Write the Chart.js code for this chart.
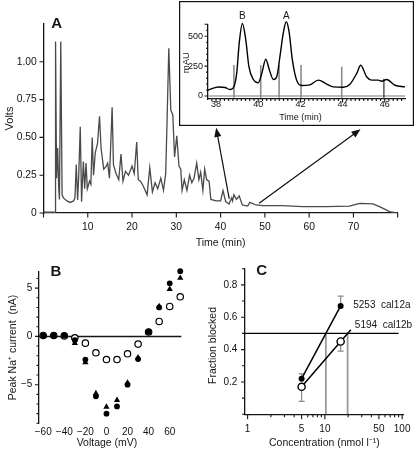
<!DOCTYPE html>
<html>
<head>
<meta charset="utf-8">
<script src="https://cdn.jsdelivr.net/npm/chart.js@4.4.0/dist/chart.umd.min.js"></script>
<style>
  html, body { margin: 0; padding: 0; background: #fff; width: 420px; height: 452px; overflow: hidden; }
  canvas { position: absolute; }
  #cA  { left: 0; top: 0; }
  #cIn { left: 179px; top: 1px; }
  #cB  { left: 0; top: 255px; }
  #cC  { left: 205px; top: 255px; }
</style>
</head>
<body>
<canvas id="cA" width="420" height="252"></canvas>
<canvas id="cIn" width="235" height="125"></canvas>
<canvas id="cB" width="200" height="197"></canvas>
<canvas id="cC" width="215" height="197"></canvas>
<script>
// ---------- panel A : chromatogram ----------
const timeA = [0, 2.6, 2.72, 2.95, 3.2, 3.44, 3.6, 3.9, 4.2, 4.5, 5.3, 6.0, 6.8, 7.1, 7.4, 7.7, 7.95, 8.3, 8.6, 9.0,
  9.3, 9.6, 9.9, 10.4, 10.7, 11.0, 11.3, 11.7, 12.2, 12.65, 13.0, 13.6, 14.2, 14.5, 14.9, 15.5, 15.8, 16.4, 17.0, 17.5,
  17.95, 18.5, 19.2, 20.0, 20.5, 21.05, 21.4, 21.9, 22.5, 23.4, 24.0, 24.6, 25.2, 25.8, 26.5, 27.1, 27.6, 27.9, 28.3, 28.75,
  29.2, 29.6, 30.1, 30.6, 31.0, 31.3, 31.8, 32.4, 33.0, 33.5, 34.0, 34.6, 35.1, 35.5, 36.0, 36.4, 36.85, 37.4, 37.8, 39.0,
  40.0, 40.55, 41.15, 41.9, 42.5, 42.7, 43.0, 43.6, 44.2, 44.9, 46.1, 46.6, 47.0, 47.96, 49.5, 54.0, 58.5, 63.8, 69.1, 71.4,
  74.4, 75.9, 78.2, 79.7];
const voltsA = [0.005, 0.005, 1.135, 0.23, 0.43, 0.16, 0.09, 1.135, 0.12, 0.10, 0.08, 0.07, 0.08, 0.10, 0.32, 0.086, 0.24, 0.57, 0.075, 0.34,
  0.16, 0.33, 0.16, 0.21, 0.19, 0.50, 0.25, 0.40, 0.46, 0.64, 0.43, 0.29, 0.31, 0.33, 0.23, 0.70, 0.32, 0.26, 0.22, 0.39,
  0.21, 0.275, 0.25, 0.31, 0.26, 0.47, 0.22, 0.21, 0.18, 0.12, 0.30, 0.14, 0.20, 0.16, 0.23, 0.15, 0.26, 0.60, 1.09, 0.68,
  0.65, 0.37, 0.51, 0.31, 0.29, 0.15, 0.22, 0.15, 0.25, 0.20, 0.23, 0.33, 0.22, 0.27, 0.15, 0.29, 0.22, 0.21, 0.09, 0.08,
  0.08, 0.148, 0.075, 0.06, 0.10, 0.08, 0.12, 0.09, 0.113, 0.053, 0.046, 0.07, 0.065, 0.053, 0.049, 0.049, 0.042, 0.042, 0.046, 0.064,
  0.06, 0.042, 0.009, 0.0];
const voltTicks = [0, 0.25, 0.5, 0.75, 1.0];
const timeTicks = [0, 10, 20, 30, 40, 50, 60, 70, 80];
const arrowFrom = [[41.95, 0.093], [48.7, 0.064]];
const arrowTo = [[39.0, 0.563], [71.6, 0.554]];

// ---------- inset : zoom of 38-47 min ----------
const timeIn = [37.62, 37.72, 38.11, 38.43, 38.66, 38.82, 38.98, 39.1, 39.25, 39.41, 39.56, 39.77, 40.0, 40.17, 40.36, 40.53,
  40.72, 40.88, 41.03, 41.19, 41.33, 41.46, 41.62, 41.82, 42.06, 42.45, 42.85, 43.25, 43.56, 44.03, 44.35, 44.67, 44.86,
  45.14, 45.38, 45.69, 45.85, 46.09, 46.48, 46.96];
const mauIn = [50, 56, 76, 71, 54, 68, 189, 443, 607, 472, 246, 138, 110, 189, 308, 218,
  138, 161, 330, 528, 621, 542, 302, 133, 88, 93, 133, 99, 76, 73, 99, 189, 257,
  161, 133, 133, 124, 138, 90, 76];
const inTimeTicks = [38, 40, 42, 44, 46];
const inMauTicks = [0, 250, 500];
const cutTimes = [38.85, 40.12, 40.99, 42.03, 43.96, 45.96];
const cutTops = [260, 260, 260, 260, 245, 145];
const peakNames = ['B', 'A'];
const peakTimes = [39.25, 41.33];

// ---------- panel B : I-V ----------
const voltage = [-60, -50, -40, -30, -20, -10, 0, 10, 20, 30, 40, 50, 60, 70];
const currentOpen = [0.1, 0.1, 0.05, -0.15, -0.7, -1.7, -2.4, -2.4, -1.8, -0.8, 0.45, 1.55, 3.1, 4.1];
const currentFilled = [0.1, 0.1, 0.1, -0.4, -2.4, -6.2, -8.0, -7.25, -5.0, -2.35, 0.5, 3.0, 5.5, 6.75];
const currentTri = [0.05, 0.05, 0.0, -0.7, -2.7, -5.9, -7.3, -6.6, -4.8, -2.2, 0.35, 3.1, 4.9, 6.05];
const voltageTicks = [-60, -40, -20, 0, 20, 40, 60];
const currentTicks = [-5, 0, 5];

// ---------- panel C : dose response ----------
const conc = [5, 16];
const blockedA = [0.22, 0.67];
const errA = [0.03, 0.06];
const blockedB = [0.17, 0.45];
const errB = [0.09, 0.06];
const leaderB = [21.7, 0.523];
const ic50 = [10.3, 19.7];
const cloneIds = ['5253', '5194'];
const cloneNames = ['cal12a', 'cal12b'];
const concTicks = [1, 5, 10, 50, 100];
const concMinor = [2, 3, 4, 6, 7, 8, 9, 20, 30, 40, 60, 70, 80, 90];
const fracTicks = [0.2, 0.4, 0.6, 0.8];
const fracMinor = [0, 0.1, 0.3, 0.5, 0.7, 0.9];

const FAM = "'Liberation Sans', Arial, Helvetica, sans-serif";
Chart.defaults.font.family = FAM;
Chart.defaults.color = '#111';
const INK = '#161616';

function txt(ctx, s, x, y, size, opt = {}) {
  ctx.save();
  ctx.translate(x, y);
  if (opt.rot) ctx.rotate(opt.rot);
  ctx.font = (opt.bold ? 'bold ' : '') + size + 'px ' + FAM;
  ctx.fillStyle = INK;
  ctx.textAlign = opt.align || 'center';
  ctx.textBaseline = 'middle';
  ctx.fillText(s, 0, 0);
  ctx.restore();
}

function arrow(ctx, x0, y0, x1, y1) {
  const a = Math.atan2(y1 - y0, x1 - x0), L = 9, W = 3.6;
  const c = Math.cos(a), s = Math.sin(a);
  ctx.beginPath();
  ctx.moveTo(x0, y0);
  ctx.lineTo(x1 - L * 0.7 * c, y1 - L * 0.7 * s);
  ctx.stroke();
  ctx.beginPath();
  ctx.moveTo(x1, y1);
  ctx.lineTo(x1 - L * c + W * s, y1 - L * s - W * c);
  ctx.lineTo(x1 - L * c - W * s, y1 - L * s + W * c);
  ctx.closePath();
  ctx.fill();
}

// outward tick marks, drawn by hand so that majors and minors can differ
function tickMarks(spec) {
  return {
    id: 'tickMarks',
    afterDraw(chart) {
      const ctx = chart.ctx, a = chart.chartArea;
      ctx.save();
      ctx.strokeStyle = INK;
      ctx.lineWidth = 1.1;
      ctx.beginPath();
      spec.forEach(s => {
        const sc = chart.scales[s.axis];
        s.values.forEach(v => {
          const p = sc.getPixelForValue(v);
          if (s.axis === 'x') { ctx.moveTo(p, a.bottom); ctx.lineTo(p, a.bottom + s.len); }
          else { ctx.moveTo(a.left, p); ctx.lineTo(a.left - s.len, p); }
        });
      });
      ctx.stroke();
      ctx.restore();
    }
  };
}

function fixedTicks(list) {
  return s => { s.ticks = list.map(v => ({ value: v })); };
}
const minus = v => (v < 0 ? '\u2212' + Math.abs(v) : String(v));
const xy = (xs, ys) => xs.map((x, i) => ({ x: x, y: ys[i] }));

// ---------- chart A ----------
new Chart(document.getElementById('cA'), {
  type: 'line',
  data: {
    datasets: [{
      data: xy(timeA, voltsA),
      borderColor: '#4a4a4a', borderWidth: 1.3, pointRadius: 0, tension: 0
    }]
  },
  options: {
    responsive: false, animation: false, devicePixelRatio: 1,
    layout: { padding: { left: 0, top: 24, right: 22.3, bottom: 0 } },
    plugins: { legend: { display: false }, tooltip: { enabled: false } },
    scales: {
      x: {
        type: 'linear', min: 0, max: 80,
        afterBuildTicks: fixedTicks(timeTicks),
        afterFit: s => { s.height = 39; },
        grid: { display: false, drawTicks: false },
        border: { display: true, color: INK, width: 1.3 },
        ticks: { autoSkip: false, maxRotation: 0, padding: 7.5, font: { size: 10.3 },
          callback: v => (v === 0 || v === 80 ? '' : String(v)) }
      },
      y: {
        type: 'linear', min: 0, max: 1.25,
        afterBuildTicks: fixedTicks(voltTicks),
        afterFit: s => { s.width = 43.5; },
        grid: { display: false, drawTicks: false },
        border: { display: true, color: INK, width: 1.3 },
        ticks: { autoSkip: false, padding: 6.8, font: { size: 10.3 },
          callback: v => (v === 0 ? '0' : v.toFixed(2)) }
      }
    }
  },
  plugins: [tickMarks([{ axis: 'x', values: timeTicks, len: 4.5 }, { axis: 'y', values: voltTicks, len: 4 }]), {
    id: 'decorA',
    afterDraw(chart) {
      const ctx = chart.ctx, a = chart.chartArea, x = chart.scales.x, y = chart.scales.y;
      txt(ctx, 'A', 56.7, 24.3, 15, { bold: true });
      txt(ctx, 'Volts', 10, (a.top + a.bottom) / 2, 11, { rot: -Math.PI / 2 });
      txt(ctx, 'Time (min)', (a.left + a.right) / 2, 243, 10.5);
      ctx.save();
      ctx.strokeStyle = '#111'; ctx.fillStyle = '#111'; ctx.lineWidth = 1.2;
      arrowFrom.forEach((f, i) => {
        const t = arrowTo[i];
        arrow(ctx, x.getPixelForValue(f[0]), y.getPixelForValue(f[1]), x.getPixelForValue(t[0]), y.getPixelForValue(t[1]));
      });
      ctx.restore();
    }
  }]
});

// ---------- inset ----------
const inMinorX = [];
for (let t = 37.8; t < 47.0; t += 0.2) inMinorX.push(Math.round(t * 10) / 10);
const inMinorY = [];
for (let m = 50; m <= 600; m += 50) if (m !== 250 && m !== 500) inMinorY.push(m);
const cutData = [], cutLast = [];
cutTimes.forEach((t, i) => {
  const seg = [{ x: t, y: -14 }, { x: t, y: cutTops[i] }, { x: t, y: null }];
  if (i < cutTimes.length - 1) cutData.push(...seg); else cutLast.push(...seg);
});

new Chart(document.getElementById('cIn'), {
  type: 'line',
  data: {
    datasets: [
      { data: xy(timeIn, mauIn), borderColor: '#000', borderWidth: 1.4, pointRadius: 0,
        cubicInterpolationMode: 'monotone', clip: false },
      { data: cutLast, borderColor: '#2a2a2a', borderWidth: 1.2, pointRadius: 0, spanGaps: false },
      { data: cutData, borderColor: '#8a8a8a', borderWidth: 1.6, pointRadius: 0, spanGaps: false },
      { data: [{ x: timeIn[0], y: 0 }, { x: timeIn[timeIn.length - 1], y: 0 }],
        borderColor: '#a5a5a5', borderWidth: 1.6, pointRadius: 0 }
    ]
  },
  options: {
    responsive: false, animation: false, devicePixelRatio: 1,
    layout: { padding: { left: 0, top: 23.3, right: 9, bottom: 0 } },
    plugins: { legend: { display: false }, tooltip: { enabled: false } },
    scales: {
      x: {
        type: 'linear', min: 37.62, max: 46.96,
        afterBuildTicks: fixedTicks(inTimeTicks),
        afterFit: s => { s.height = 27; },
        grid: { display: false, drawTicks: false },
        border: { display: true, color: INK, width: 1.3 },
        ticks: { autoSkip: false, maxRotation: 0, padding: 0, font: { size: 9 }, callback: v => String(v) }
      },
      y: {
        type: 'linear', min: -25, max: 600,
        afterBuildTicks: fixedTicks(inMauTicks),
        afterFit: s => { s.width = 29; },
        grid: { display: false, drawTicks: false },
        border: { display: true, color: INK, width: 1.3 },
        ticks: { autoSkip: false, padding: 5, font: { size: 9 }, callback: v => String(v) }
      }
    }
  },
  plugins: [{
    id: 'boxIn',
    beforeDraw(chart) {
      const ctx = chart.ctx;
      ctx.save();
      ctx.fillStyle = '#fff';
      ctx.fillRect(0, 0, chart.width, chart.height);
      ctx.strokeStyle = '#111'; ctx.lineWidth = 1.2;
      ctx.strokeRect(0.6, 0.6, chart.width - 1.2, chart.height - 1.2);
      ctx.restore();
    },
    afterDraw(chart) {
      const a = chart.chartArea, ctx = chart.ctx;
      peakNames.forEach((n, i) => txt(ctx, n, chart.scales.x.getPixelForValue(peakTimes[i]), 15.5, 10));
      txt(ctx, 'mAU', 7.5, (a.top + a.bottom) / 2 + 1, 9.5, { rot: -Math.PI / 2 });
      txt(ctx, 'Time (min)', (a.left + a.right) / 2 - 6, 117, 9);
    }
  }, tickMarks([
    { axis: 'x', values: inTimeTicks, len: 3.5 }, { axis: 'x', values: inMinorX, len: 2 },
    { axis: 'y', values: inMauTicks.concat([600]), len: 3.5 }, { axis: 'y', values: inMinorY, len: 2 }
  ])]
});

// ---------- chart B ----------
const bMinorY = [];
for (let c = -9; c <= 6; c++) if (c % 5 !== 0) bMinorY.push(c);

new Chart(document.getElementById('cB'), {
  type: 'scatter',
  data: {
    datasets: [
      { data: xy(voltage, currentFilled), pointStyle: 'circle', pointRadius: 2.9, clip: false,
        backgroundColor: '#000', borderColor: '#000', borderWidth: 0 },
      { data: xy(voltage, currentTri), pointStyle: 'triangle', pointRadius: 3.6, clip: false,
        backgroundColor: '#000', borderColor: '#000', borderWidth: 0 },
      { data: xy(voltage, currentOpen), pointStyle: 'circle', pointRadius: 3.2, clip: false,
        backgroundColor: '#fff', borderColor: '#000', borderWidth: 1.2 }
    ]
  },
  options: {
    responsive: false, animation: false, devicePixelRatio: 1,
    layout: { padding: { left: 0, top: 16.7, right: 18.7, bottom: 0 } },
    plugins: { legend: { display: false }, tooltip: { enabled: false } },
    scales: {
      x: {
        type: 'linear', min: -64, max: 71,
        afterBuildTicks: fixedTicks(voltageTicks),
        afterFit: s => { s.height = 28.7; },
        grid: { display: false, drawTicks: false },
        border: { display: false },
        ticks: { autoSkip: false, maxRotation: 0, padding: 3.4, font: { size: 10 }, callback: minus }
      },
      y: {
        type: 'linear', min: -9, max: 6.7,
        afterBuildTicks: fixedTicks(currentTicks),
        afterFit: s => { s.width = 39; },
        grid: { display: false, drawTicks: false },
        border: { display: true, color: INK, width: 1.3 },
        ticks: { autoSkip: false, padding: 6.7, font: { size: 10 }, callback: minus }
      }
    }
  },
  plugins: [tickMarks([{ axis: 'y', values: currentTicks, len: 4 }, { axis: 'y', values: bMinorY, len: 2.5 }]), {
    id: 'decorB',
    beforeDatasetsDraw(chart) {
      const ctx = chart.ctx, a = chart.chartArea, y0 = chart.scales.y.getPixelForValue(0);
      ctx.save();
      ctx.strokeStyle = INK; ctx.lineWidth = 1.5;
      ctx.beginPath(); ctx.moveTo(a.left, y0); ctx.lineTo(a.right, y0); ctx.stroke();
      ctx.restore();
    },
    afterDraw(chart) {
      const ctx = chart.ctx, a = chart.chartArea;
      txt(ctx, 'B', 56, 17.3, 15, { bold: true });
      txt(ctx, 'Peak Na\u207A current  (nA)', 13, (a.top + a.bottom) / 2, 10.5, { rot: -Math.PI / 2 });
      txt(ctx, 'Voltage (mV)', 107, 188, 10.5);
    }
  }]
});

// ---------- chart C ----------
const icData = [];
ic50.forEach(v => icData.push({ x: v, y: 0 }, { x: v, y: 0.5 }, { x: v, y: null }));

new Chart(document.getElementById('cC'), {
  type: 'line',
  data: {
    datasets: [
      { data: xy(conc, blockedA), borderColor: '#000', borderWidth: 1.5, pointRadius: 3,
        pointBackgroundColor: '#000', pointBorderColor: '#000', pointBorderWidth: 0 },
      { data: xy(conc, blockedB).concat([{ x: leaderB[0], y: leaderB[1] }]), borderColor: '#000', borderWidth: 1.5,
        pointRadius: ctx => (ctx.dataIndex < conc.length ? 3.6 : 0),
        pointBackgroundColor: '#fff', pointBorderColor: '#000', pointBorderWidth: 1.4 },
      { data: [{ x: 0.925, y: 0.5 }, { x: 90, y: 0.5 }], borderColor: '#000', borderWidth: 1.4, pointRadius: 0 },
      { data: icData, borderColor: '#9a9a9a', borderWidth: 1.8, pointRadius: 0, spanGaps: false }
    ]
  },
  options: {
    responsive: false, animation: false, devicePixelRatio: 1,
    layout: { padding: { left: 0, top: 8.3, right: 11.7, bottom: 0 } },
    plugins: { legend: { display: false }, tooltip: { enabled: false } },
    scales: {
      x: {
        type: 'logarithmic', min: 0.925, max: 105,
        afterBuildTicks: fixedTicks(concTicks),
        afterFit: s => { s.height = 37.7; },
        grid: { display: false, drawTicks: false },
        border: { display: true, color: INK, width: 1.3 },
        ticks: { autoSkip: false, maxRotation: 0, padding: 9.4, font: { size: 10 }, callback: v => String(v) }
      },
      y: {
        type: 'linear', min: 0, max: 0.9,
        afterBuildTicks: fixedTicks(fracTicks),
        afterFit: s => { s.width = 40; },
        grid: { display: false, drawTicks: false },
        border: { display: true, color: INK, width: 1.3 },
        ticks: { autoSkip: false, padding: 7.7, font: { size: 10 }, callback: v => v.toFixed(1) }
      }
    }
  },
  plugins: [tickMarks([
    { axis: 'x', values: concTicks, len: 5 }, { axis: 'x', values: concMinor, len: 3 },
    { axis: 'y', values: fracTicks, len: 4 }, { axis: 'y', values: fracMinor, len: 3 }
  ]), {
    id: 'decorC',
    beforeDatasetsDraw(chart) {
      const ctx = chart.ctx, x = chart.scales.x, y = chart.scales.y;
      ctx.save();
      ctx.strokeStyle = '#8a8a8a'; ctx.lineWidth = 1.2;
      const bar = (cx, v0, v1) => {
        const px = x.getPixelForValue(cx), p0 = y.getPixelForValue(v0), p1 = y.getPixelForValue(v1);
        ctx.beginPath();
        ctx.moveTo(px, p0); ctx.lineTo(px, p1);
        ctx.moveTo(px - 3, p1); ctx.lineTo(px + 3, p1);
        ctx.stroke();
      };
      conc.forEach((c, i) => {
        bar(c, blockedA[i], blockedA[i] + errA[i]);
        bar(c, blockedB[i], blockedB[i] - errB[i]);
      });
      ctx.restore();
    },
    afterDraw(chart) {
      const ctx = chart.ctx, a = chart.chartArea, x = chart.scales.x, y = chart.scales.y;
      const n = conc.length - 1;
      txt(ctx, 'C', 56.7, 15.9, 15, { bold: true });
      txt(ctx, 'Fraction blocked', 8, (a.top + a.bottom) / 2 + 4, 10.5, { rot: -Math.PI / 2 });
      txt(ctx, 'Concentration (nmol l\u207B\u00B9)', (a.left + a.right) / 2, 188, 10.5);
      txt(ctx, cloneIds[0] + '  ' + cloneNames[0], x.getPixelForValue(conc[n]) + 12.6,
        y.getPixelForValue(blockedA[n]) - 1, 10, { align: 'left' });
      txt(ctx, cloneIds[1] + '  ' + cloneNames[1], x.getPixelForValue(leaderB[0]) + 4,
        y.getPixelForValue(leaderB[1]) - 4.5, 10, { align: 'left' });
    }
  }]
});
</script>
</body>
</html>
